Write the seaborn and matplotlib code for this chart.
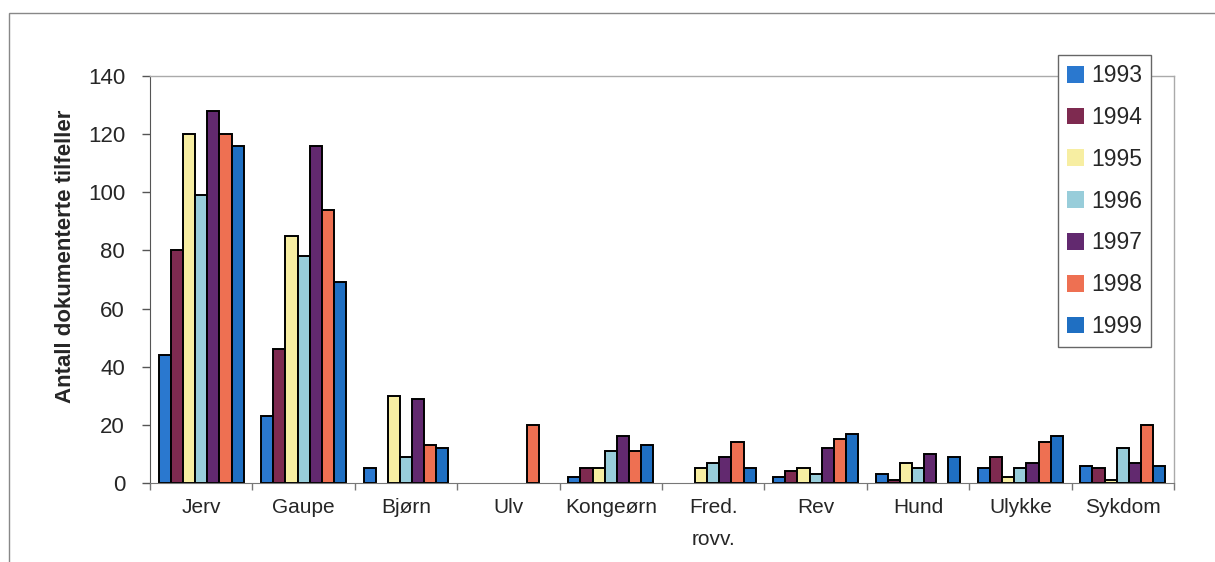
import pandas as pd
import matplotlib
matplotlib.use('Agg')
import matplotlib.pyplot as plt
import matplotlib.patches as mpatches
import seaborn as sns

# data
kategorier = ['Jerv', 'Gaupe', 'Bjørn', 'Ulv', 'Kongeørn', 'Fred.\nrovv.',
              'Rev', 'Hund', 'Ulykke', 'Sykdom']
aar = ['1993', '1994', '1995', '1996', '1997', '1998', '1999']
v1993 = [44, 23, 5, 0, 2, 0, 2, 3, 5, 6]
v1994 = [80, 46, 0, 0, 5, 0, 4, 1, 9, 5]
v1995 = [120, 85, 30, 0, 5, 5, 5, 7, 2, 1]
v1996 = [99, 78, 9, 0, 11, 7, 3, 5, 5, 12]
v1997 = [128, 116, 29, 0, 16, 9, 12, 10, 7, 7]
v1998 = [120, 94, 13, 20, 11, 14, 15, 0, 14, 20]
v1999 = [116, 69, 12, 0, 13, 5, 17, 9, 16, 6]
farger = ['#2a78cf', '#7e2a50', '#f7eea2', '#98cdda', '#62296f', '#ee7052', '#1f6fc2']

serier = [v1993, v1994, v1995, v1996, v1997, v1998, v1999]
rader = []
for a, vals in zip(aar, serier):
    for k, v in zip(kategorier, vals):
        rader.append({'kategori': k, 'år': a, 'antall': v})
df = pd.DataFrame(rader)

sns.set_style('white')
plt.rcParams['font.family'] = ['Liberation Sans', 'DejaVu Sans']

fig = plt.figure(figsize=(12.15, 5.62), dpi=100)
ax = fig.add_axes([150/1215, 1-483/562, (1174-150)/1215, (483-76)/562])

sns.barplot(data=df, x='kategori', y='antall', hue='år', order=kategorier,
            hue_order=aar, palette=farger, width=0.83, edgecolor='black',
            linewidth=1.4, saturation=1, errorbar=None, ax=ax)
# skjul null-søyler
for p in ax.patches:
    if p.get_height() == 0:
        p.set_linewidth(0)

ax.set_ylim(0, 140)
ax.set_xlim(-0.5, 9.5)
ax.set_yticks(range(0, 141, 20))
ax.tick_params(axis='y', labelsize=16, length=6, width=1, color='#555', pad=12, left=True)
ax.tick_params(axis='x', which='major', labelsize=15, length=0, pad=11)
ax.set_xticks([i - 0.5 for i in range(11)], minor=True)
ax.tick_params(axis='x', which='minor', length=5, width=1, color='#777', bottom=True)
for t in ax.get_xticklabels():
    t.set_linespacing(1.85)
ax.set_xlabel('')
ax.set_ylabel('Antall dokumenterte tilfeller', fontsize=16, fontweight='bold')
ax.yaxis.set_label_coords(-0.072, 0.556)

for s in ['top', 'right']:
    ax.spines[s].set_color('#aaaaaa')
    ax.spines[s].set_linewidth(1)
ax.spines['left'].set_color('#555555')
ax.spines['bottom'].set_color('#777777')

leg = ax.legend(loc='upper left', bbox_to_anchor=(1058/1215, 1-55/562),
                bbox_transform=fig.transFigure, fontsize=16.5, frameon=True,
                fancybox=False, edgecolor='#666666', framealpha=1,
                handlelength=0.75, handleheight=0.75, handletextpad=0.3,
                labelspacing=0.82, borderpad=0.4, borderaxespad=0)
leg.get_frame().set_linewidth(1)

# ytre ramme
fig.patches.append(mpatches.Rectangle((9/1215, -0.1), 1.2, 1.1 - 13/562,
                                      transform=fig.transFigure, fill=False,
                                      edgecolor='#888888', linewidth=1))

fig.savefig('out.png', dpi=100)
